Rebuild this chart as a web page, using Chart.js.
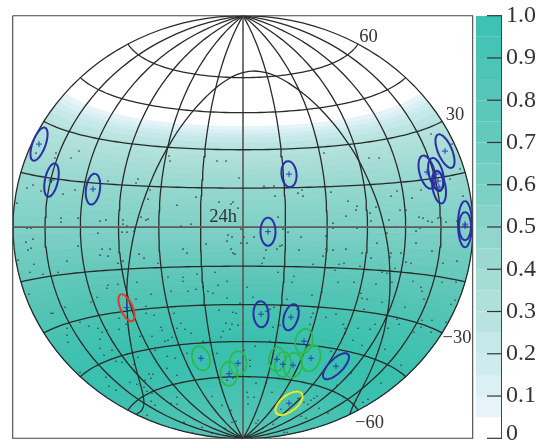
<!DOCTYPE html>
<html>
<head>
<meta charset="utf-8">
<title>Sky map</title>
<script src="https://cdn.jsdelivr.net/npm/chart.js@4/dist/chart.umd.js"></script>
<style>
  html,body{margin:0;padding:0;background:#fff;width:545px;height:441px;overflow:hidden}
  canvas{position:absolute;top:0}
  #skyMap{left:0}
  #colorBar{left:475px}
</style>
</head>
<body>
<canvas id="skyMap" width="475" height="441"></canvas>
<canvas id="colorBar" width="70" height="441"></canvas>
<script>
// colour bar levels, one per 0.05 of relative exposure
const levelTop = [0.10,0.15,0.20,0.25,0.30,0.35,0.40,0.45,0.50,0.55,0.60,0.65,0.70,0.75,0.80,0.85,0.90,0.95,1.00];
const levelColour = ["#E6F4FA","#DAF0F4","#CEEBED","#C5E8E8","#B8E3E0","#B0E0DA","#A5DDD5","#9BD9D0","#91D6CC","#87D3C9","#7DD0C4","#75CEC2","#6CCBBF","#64C9BD","#5CC7BB","#54C5B8","#4CC4B6","#45C3B5","#3EC2B3","#36C0AF"];
const colourTicks = [0,0.1,0.2,0.3,0.4,0.5,0.6,0.7,0.8,0.9,1];

// exposure on the map: declination (deg) where each shade starts, going south
const bandDec = [39.5,38,36.5,35,33,31,28,25.5,23,20.5,18,15.5,13,10.5,8,5.5,3,0.5,-2,-4.5,-7,-9.5,-12,-14.5,-17,-19.5,-22,-24.5,-27,-29.5,-32,-34.5,-37,-39.5,-42,-45,-55,-58,-61,-64,-67,-70,-74,-78,-82,-86];
const bandColour = ["#E6F4FA","#DAF0F4","#CEEBED","#C5E8E8","#BBE4E2","#B4E2DD","#AFE0DA","#AADED7","#A5DCD5","#9FDBD3","#99D9D0","#94D7CE","#90D6CD","#8CD5CB","#89D4CA","#85D2C8","#82D1C7","#7FD0C6","#7ACEC3","#76CDC2","#71CCC0","#6CCBBE","#67C9BC","#62C8BA","#5EC7B9","#5AC6B8","#56C5B6","#52C4B5","#4EC4B4","#4AC3B3","#47C2B2","#44C2B1","#41C1B0","#3EC1B0","#3BC0AF","#39C0AE","#3CC0AF","#3EC1B0","#41C1B0","#45C2B1","#48C2B2","#4BC3B3","#4FC3B4","#52C4B5","#55C5B6","#58C5B7"];

const meridians = [-180,-150,-120,-90,-60,-30,0,30,60,90,120,150,180];
const parallels = [-60,-45,-30,-15,0,15,30,45,60];

// galactic plane in longitude from the map centre / declination
const planeLon = [-180,-177.15,-167.15,-157.15,-147.15,-137.15,-127.15,-117.15,-107.15,-97.15,-87.15,-77.15,-67.15,-57.15,-47.15,-37.15,-27.15,-17.15,-7.15,2.85,12.85,22.85,32.85,42.85,52.85,62.85,72.85,82.85,92.85,102.85,112.85,122.85,132.85,142.85,152.85,162.85,172.85,180];
const planeDec = [-62.3,-62.5,-62.87,-62.5,-61.4,-59.4,-56.2,-51.4,-44.3,-33.7,-18.7,0,18.7,33.7,44.3,51.4,56.2,59.4,61.4,62.5,62.87,62.5,61.4,59.4,56.2,51.4,44.3,33.7,18.7,0,-18.7,-33.7,-44.3,-51.4,-56.2,-59.4,-61.4,-62.3];

// sources, in map-plane units: centre, error ellipse axes, tilt from vertical
const sourceX = [-204,-191.5,-150,46,25,202,184,193,196,195,222,222,18,48,93,-116.5,46,-42,-14,-5,34,40,50,68,61];
const sourceY = [83,47,38,53,-4.5,76,55,53,40,46,3,1,-87,-90,-139,-80.5,-176,-131,-146.5,-136,-132,-137,-138,-131,-114];
const sourceMajor = [17.5,17,15.5,13,14,18,17,16.5,16.5,10,23,14,13,13.5,17,14.5,16,12.5,12,12,12,12.5,12.5,13.5,12.5];
const sourceMinor = [6.5,6.5,7,7.5,7.5,7,7.5,7,6.5,5,7,6,7.5,7,7,6,8,8.5,8.5,8.5,8,8,9,9,8.5];
const sourceTilt = [20,12,8,-6,0,-23,-15,-14,-10,-8,0,0,-3,17,45,-24,52,-20,0,0,5,5,10,18,12];
const sourceClass = ["blue","blue","blue","blue","blue","blue","blue","blue","blue","blue","blue","blue","blue","blue","blue","red","yellow","green","green","green","green","green","green","green","green"];

// events, in map-plane units
const eventX = [-207,-187,-188,-172,-164,-210,-216,-202,-180,-168,-135,-105,-107,-93,-95,-226,-182,-182,-165,-143,-137,-120,-120,-102,-95,-97,-216,-212,-116,-108,
-26,-17,-4,21,31,32,59,55,60,-47,-24,-10,-12,-5,-66,-52,-62,35,40,-74,-73,-2,
188,81,126,136,209,217,207,88,105,114,113,103,127,133,128,146,148,154,169,178,157,163,176,180,185,189,195,203,214,220,90,90,114,177,153,
-217,-210,-212,-215,-225,-209,-213,-200,-185,-176,-165,-145,-141,-133,-143,-135,-121,-116,-109,-104,-99,-125,-120,-85,-75,-135,-136,-125,-117,-106,-92,-107,-97,-146,-152,-214,-190,-192,-178,-176,-154,-145,-141,-136,-124,-117,-124,-97,-82,-81,-163,-89,
-15,-11,-16,1,11,-2,4,-37,-60,-56,-12,-10,-8,21,19,23,34,39,37,45,58,56,70,35,-28,-46,-60,-60,-25,-16,51,49,4,-72,-55,-47,-40,-35,-30,-16,10,44,69,-3,-69,-24,-10,-7,0,27,31,23,54,70,75,68,-62,-66,-58,-52,-17,-11,-5,-13,-20,0,30,37,44,67,
83,90,103,83,80,96,101,92,117,119,128,134,144,173,173,148,147,158,163,168,189,200,214,152,139,144,95,111,133,149,170,199,213,178,179,79,118,119,124,139,181,208,212,162,121,93,83,143,154,156,189,203,179,100,102,115,127,132,145,171,178,188,102,
-143,-143,-139,-127,-121,-134,-137,-127,-113,-109,-109,-116,-105,-110,-103,-91,-71,-75,-78,-88,-76,-68,-51,-56,-76,-66,-94,-90,-92,-98,-99,-106,-96,-91,-92,-88,-72,-66,-66,-96,-59,-50,-41,-31,-21,-16,-10,-12,-7,-11,-18,-22,-40,-26,-31,-16,
27,12,1,7,7,13,4,11,5,5,23,29,38,38,55,61,65,68,71,74,76,88,108,110,119,142,138,125,120,85,58,63,15,30,20,44,41,13,94,113,158,-163,-175,-176,-131];
const eventY = [74,74,69,69,76,42,39,36,33,37,46,48,44,37,28,24,9,5,9,6,7,7,3,10,8,7,-1,-1,1,-1,
66,66,49,41,41,31,37,34,31,30,25,25,23,19,22,3,1,10,-2,71,66,-2,
93,74,69,69,83,58,48,35,26,21,17,11,14,20,6,7,31,36,29,37,17,17,10,9,6,5,9,5,6,31,4,-1,-1,-1,0,
-15,-12,-21,-23,-33,-37,-45,-47,-45,-34,-19,-6,-22,-22,-28,-29,-5,-5,-4,-27,-31,-36,-34,-36,-50,-58,-61,-57,-60,-55,-67,-72,-79,-70,-75,-67,-86,-86,-80,-101,-99,-101,-105,-103,-102,-97,-91,-86,-100,-103,-95,-88,
-8,-10,-14,-10,-10,-16,-16,-17,-22,-26,-22,-26,-27,-31,-36,-23,-22,-18,-19,-5,-10,-23,-37,-45,-45,-47,-50,-54,-58,-54,-49,-55,-60,-64,-64,-62,-60,-64,-66,-71,-70,-72,-68,-76,-86,-83,-85,-86,-79,-82,-80,-84,-82,-86,-81,-90,-96,-101,-102,-106,-96,-97,-98,-102,-104,-97,-100,-98,-103,-97,
-9,-23,-22,-22,-29,-37,-36,-43,-39,-26,-31,-16,-6,-4,-16,-26,-30,-26,-35,-36,-24,-36,-34,-41,-45,-46,-55,-55,-57,-55,-54,-55,-55,-60,-64,-65,-66,-71,-72,-75,-72,-77,-73,-80,-82,-87,-90,-88,-92,-97,-93,-95,-93,-97,-101,-101,-102,-97,-101,-105,-100,-105,-106,
-112,-121,-128,-134,-135,-159,-150,-163,-155,-143,-137,-127,-130,-125,-109,-109,-110,-113,-114,-123,-129,-131,-127,-126,-141,-148,-147,-147,-151,-153,-160,-157,-164,-166,-174,-178,-176,-177,-170,-188,-195,-206,-200,-169,-178,-153,-151,-183,-194,-195,-201,-110,-114,-126,-206,-208,
-114,-119,-123,-133,-139,-156,-165,-170,-170,-177,-156,-165,-173,-182,-171,-175,-177,-173,-171,-169,-181,-124,-146,-113,-118,-122,-156,-172,-175,-186,-189,-191,-193,-197,-201,-205,-205,-196,-158,-173,-138,-145,-115,-108,-123];

const labelText = ["60","30","\u221230","\u221260","24h"];
const labelX = [125.5,212,214,126.5,-20];
const labelY = [190,112,-111,-196,10];

const classColour = {blue:"#2B2FA3",red:"#E8352A",yellow:"#EFE820",green:"#2FB84A"};
const serif = "'Liberation Serif', serif";

// Hammer projection, scaled to the map plane
function project(lon,dec){
  const l = lon*Math.PI/360, d = dec*Math.PI/180;
  const k = Math.sqrt(1+Math.cos(d)*Math.cos(l));
  return {x:230*Math.cos(d)*Math.sin(l)/k, y:211.3*Math.sin(d)/k};
}

function steps(from,to,by){
  const out=[];
  const n=Math.round(Math.abs(to-from)/by);
  for(let i=0;i<=n;i++) out.push(from+(to-from)*i/n);
  return out;
}

function bandPolygon(dec){
  const pts = steps(-180,180,4).map(lon=>project(lon,dec));
  steps(dec,-90,2).forEach(d=>pts.push(project(180,d)));
  steps(-90,dec,2).forEach(d=>pts.push(project(-180,d)));
  return pts;
}

function ellipsePoints(i){
  const t = sourceTilt[i]*Math.PI/180;
  return steps(0,360,10).map(a=>{
    const u = sourceMajor[i]*Math.cos(a*Math.PI/180), v = sourceMinor[i]*Math.sin(a*Math.PI/180);
    return {x:sourceX[i]+u*Math.sin(t)+v*Math.cos(t), y:sourceY[i]+u*Math.cos(t)-v*Math.sin(t)};
  });
}

function lineSet(data,colour,width,order,extra){
  return Object.assign({data,showLine:true,borderColor:colour,borderWidth:width,pointRadius:0,fill:false,order},extra||{});
}

const datasets = [];

// exposure bands, painted north to south so each one covers the last
bandDec.forEach((dec,i)=>{
  datasets.push(lineSet(bandPolygon(dec),"transparent",0,1000-i,{fill:"shape",backgroundColor:bandColour[i]}));
});

datasets.push({data:eventX.map((x,i)=>({x,y:eventY[i]})),pointRadius:0.8,pointBackgroundColor:"#333",pointBorderWidth:0,showLine:false,order:500});

parallels.forEach(dec=>{
  const pts = steps(-180,180,4).map(lon=>project(lon,dec));
  datasets.push(lineSet(pts,dec===0?"#5c5c5c":"#2a2a2a",dec===0?1.7:1.3,400));
});
meridians.forEach(lon=>{
  const pts = steps(-90,90,3).map(dec=>project(lon,dec));
  datasets.push(lineSet(pts,lon===0?"#5c5c5c":"#2a2a2a",lon===0?1.7:1.3,400));
});
datasets.push(lineSet(planeLon.map((lon,i)=>project(lon,planeDec[i])),"#2a2a2a",1.3,390,{tension:0.4}));

sourceX.forEach((x,i)=>{
  datasets.push(lineSet(ellipsePoints(i),classColour[sourceClass[i]],sourceClass[i]==="green"?1.7:2,200,{tension:0.4}));
});
datasets.push({data:sourceX.map((x,i)=>({x,y:sourceY[i]})),pointStyle:"cross",pointRadius:3,pointBorderColor:"#2B3FB8",pointBorderWidth:1,showLine:false,order:100});

// frame of the map
datasets.push(lineSet([{x:-230.3,y:211.3},{x:229.7,y:211.3},{x:229.7,y:-211},{x:-230.3,y:-211},{x:-230.3,y:211.3}],"#444",1.1,50,{clip:false}));

const mapLabels = {
  id:"mapLabels",
  afterDatasetsDraw(chart){
    const {ctx,scales} = chart;
    ctx.save();
    ctx.fillStyle = "#333";
    ctx.font = "18.5px "+serif;
    ctx.textAlign = "center";
    ctx.textBaseline = "middle";
    labelText.forEach((t,i)=>ctx.fillText(t,scales.x.getPixelForValue(labelX[i]),scales.y.getPixelForValue(labelY[i])));
    ctx.restore();
  }
};

new Chart(document.getElementById("skyMap"),{
  type:"scatter",
  data:{datasets},
  plugins:[mapLabels],
  options:{
    responsive:false,
    animation:false,
    layout:{autoPadding:false,padding:{left:12.7,right:2.3,top:15.7,bottom:2.7}},
    plugins:{legend:{display:false},tooltip:{enabled:false}},
    scales:{
      x:{type:"linear",display:false,min:-230.3,max:229.7},
      y:{type:"linear",display:false,min:-211,max:211.3}
    }
  }
});

// colour bar
const barSets = [];
colourTicks.forEach(v=>{
  barSets.push(lineSet([{x:0.44,y:v},{x:1,y:v}],"#333",1.2,10,{clip:false}));
});
levelColour.forEach((c,i)=>{
  const top = i===levelColour.length-1 ? 1 : levelTop[i];
  const lo = i===0 ? 0.05 : levelTop[i-1];
  barSets.push(lineSet([{x:0,y:lo},{x:1,y:lo},{x:1,y:top},{x:0,y:top},{x:0,y:lo}],"transparent",0,100,{fill:"shape",backgroundColor:c}));
});

new Chart(document.getElementById("colorBar"),{
  type:"scatter",
  data:{datasets:barSets},
  options:{
    responsive:false,
    animation:false,
    layout:{autoPadding:false,padding:{left:1,right:0,top:15.7,bottom:2.7}},
    plugins:{legend:{display:false},tooltip:{enabled:false}},
    scales:{
      x:{type:"linear",display:false,min:0,max:1},
      y:{
        type:"linear",
        position:"right",
        min:0,
        max:1,
        afterFit(scale){scale.width=44;scale.paddingTop=0;scale.paddingBottom=0},
        afterBuildTicks(scale){scale.ticks=colourTicks.map(value=>({value}))},
        grid:{display:false,drawTicks:false},
        border:{display:true,color:"#444",width:1},
        ticks:{
          color:"#333",
          padding:5,
          maxRotation:0,
          autoSkip:false,
          font:c=>({family:serif,size:24,lineHeight:c.tick&&c.tick.value===0?0.42:1.2}),
          callback:v=>v===0?["0",""]:v.toFixed(1)
        }
      }
    }
  }
});
</script>
</body>
</html>
